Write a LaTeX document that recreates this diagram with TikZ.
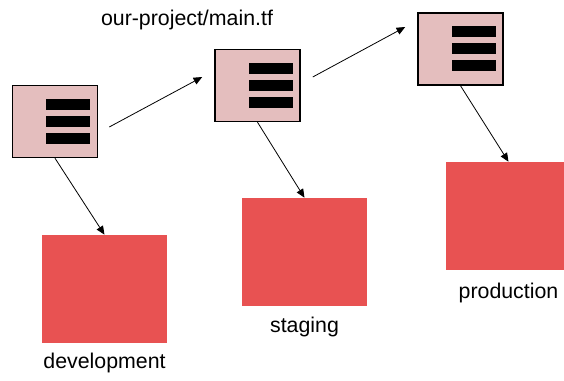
\documentclass[tikz,border=0pt]{standalone}
\usepackage{fontspec}
\setmainfont{Liberation Sans}
\usetikzlibrary{arrows.meta}

\definecolor{filepink}{RGB}{228,190,190}
\definecolor{envred}{RGB}{232,82,82}

\begin{document}
\begin{tikzpicture}[x=0.75pt,y=-0.75pt,
    >={Triangle[length=6.5pt,width=5.5pt]},
    tffile/.style={shape=rectangle,draw=black,line width=1.1pt,fill=filepink,
      minimum width=63.8pt,minimum height=54pt,inner sep=0pt},
    envbox/.style={shape=rectangle,fill=envred,
      minimum width=93.75pt,minimum height=81pt,inner sep=0pt},
    txt/.style={font=\fontsize{16}{19}\selectfont,inner sep=0pt},
    link/.style={->,line width=0.6pt}]
  \useasboundingbox (0,0) rectangle (564,381);
  \clip (0,0) rectangle (564,381);

  \node[txt] (title) at (187,20) {our-project/main.tf};

  % config files
  \node[tffile] (f1) at (55,121.5) {};
  \node[tffile] (f2) at (257.5,85.5) {};
  \node[tffile] (f3) at (460.5,49) {};
  \foreach \f in {f1,f2,f3}
    \foreach \dy in {-17,0,17}
      \fill ([shift={(-9,{\dy-5.5})}]\f.center) rectangle ++(44,11);

  % environments
  \node[envbox] (dev) at (104.5,289) {};
  \node[envbox] (stg) at (304.5,252) {};
  \node[envbox] (prod) at (508.5,216) {};
  \node[txt] (devname) at ([shift={(0,20)}]dev.south) {development};
  \node[txt] (stgname) at ([shift={(0,21)}]stg.south) {staging};
  \node[txt] (prodname) at ([shift={(0,23)}]prod.south) {production};

  \path [link] (f1.south) edge (dev.north);
  \path [link] (f2.south) edge (stg.north);
  \path [link] (f3.south) edge (prod.north);
  \path [link] ([shift={(11,5.5)}]f1.east) edge ([shift={(-12,-8.5)}]f2.west);
  \path [link] ([shift={(12,-8.5)}]f2.east) edge ([shift={(-12,-22)}]f3.west);
\end{tikzpicture}
\end{document}
